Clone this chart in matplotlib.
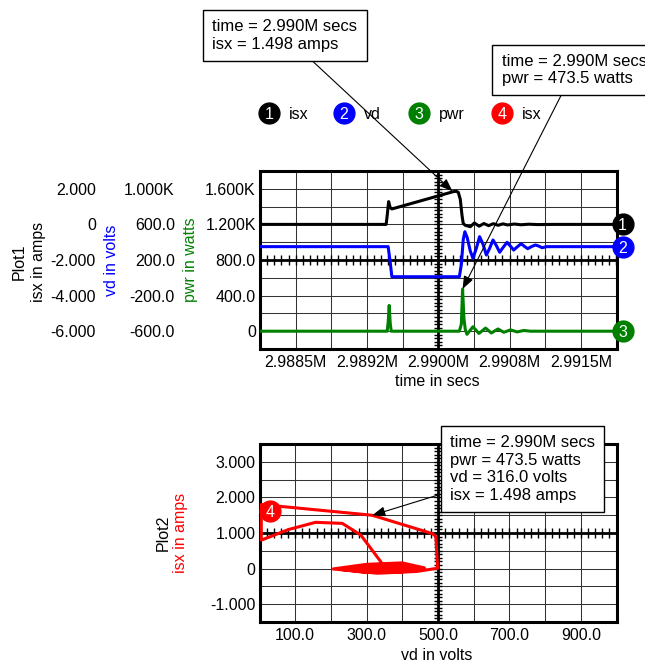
import numpy as np
import matplotlib
matplotlib.use('Agg')
import matplotlib.pyplot as plt
from matplotlib.transforms import ScaledTranslation

plt.rcParams['font.family'] = ['Liberation Sans', 'DejaVu Sans']
plt.rcParams['font.size'] = 11.5

# ---- Plot1 数据 (时间单位: ms, 标签写成 "M") ----
time_ticks = [2.98850, 2.98925, 2.99000, 2.99075, 2.99150]
time_labels = ['2.9885M', '2.9892M', '2.9900M', '2.9908M', '2.9915M']
t_min, t_max = 2.988125, 2.991875

isx_t = [2.988125, 2.989452, 2.989463, 2.989478, 2.989494, 2.989512, 2.989547,
         2.990158, 2.990190, 2.990211, 2.990232, 2.990250, 2.990263, 2.990284,
         2.990337, 2.990380, 2.990430, 2.990480, 2.990530, 2.990580, 2.990630,
         2.990680, 2.990730, 2.990800, 2.990870, 2.990950, 2.991050, 2.991200,
         2.991875]
isx_v = [0, 0, 0.5, 1.28, 0.95, 0.87, 0.92,
         1.84, 1.86, 1.80, 1.40, 0.5, 0.05, -0.05,
         -0.13, 0.08, -0.10, 0.05, -0.07, 0.04, -0.05,
         0.03, -0.03, 0.02, -0.02, 0.01, -0.01, 0,
         0]

vd_t = [2.988125, 2.989473, 2.989494, 2.989512, 2.990222, 2.990243, 2.990263,
        2.990280, 2.990305, 2.990337, 2.990365, 2.990400, 2.990435, 2.990470,
        2.990506, 2.990540, 2.990576, 2.990612, 2.990646, 2.990685, 2.990724,
        2.990760, 2.990793, 2.990832, 2.990871, 2.990905, 2.990941, 2.990980,
        2.991022, 2.991060, 2.991092, 2.991140, 2.991875]
vd_v = [350, 350, 180, 12, 12, 150, 430,
        518, 450, 300, 219, 330, 462, 380,
        256, 330, 425, 360, 287, 345, 399,
        355, 312, 348, 383, 355, 327, 350,
        369, 355, 338, 350, 350]

pwr_t = [2.988125, 2.989463, 2.989473, 2.989484, 2.989494, 2.989505, 2.990222,
         2.990243, 2.990256, 2.990270, 2.990284, 2.990302, 2.990365, 2.990428,
         2.990498, 2.990558, 2.990628, 2.990690, 2.990760, 2.990830, 2.990900,
         2.990970, 2.991875]
pwr_v = [0, 0, 100, 290, 100, 0, 0,
         80, 474, 150, 20, -35, 50, -25,
         35, -20, 25, -12, 15, -8, 8,
         0, 0]

pwr_ticks = [1600, 1200, 800, 400, 0]
pwr_labels = ['1.600K', '1.200K', '800.0', '400.0', '0']
vd_ticks = [1000, 600, 200, -200, -600]
vd_labels = ['1.000K', '600.0', '200.0', '-200.0', '-600.0']
isx_ticks = [2, 0, -2, -4, -6]
isx_labels = ['2.000', '0', '-2.000', '-4.000', '-6.000']

# ---- Plot2 数据 (vd vs isx) ----
xy_vd = [345, 340, 284, 232, 157, 82, 5, 5, 316, 485, 494, 499,
         440, 330, 206, 300, 400, 462, 400, 300, 225, 310, 400, 448,
         390, 300, 250, 320, 400, 430, 380, 310, 275, 330, 390, 415,
         370, 320, 300, 340, 385, 400, 360, 330, 325, 350, 375, 345]
xy_isx = [0.0, 0.19, 0.94, 1.27, 1.30, 1.10, 0.80, 1.80, 1.498, 0.98, 0.90, 0.01,
          -0.08, -0.13, -0.01, 0.12, 0.16, 0.02, -0.09, -0.11, -0.02, 0.10, 0.13, 0.02,
          -0.08, -0.09, -0.01, 0.09, 0.10, 0.01, -0.07, -0.07, 0.0, 0.07, 0.07, 0.0,
          -0.05, -0.04, 0.0, 0.05, 0.04, 0.0, -0.03, -0.02, 0.01, 0.03, 0.01, 0.0]
vd_xticks = [100, 300, 500, 700, 900]
vd_xlabels = ['100.0', '300.0', '500.0', '700.0', '900.0']
isx2_ticks = [3, 2, 1, 0, -1]
isx2_labels = ['3.000', '2.000', '1.000', '0', '-1.000']

# 光标读数
cur_time = '2.990M'
cur_isx = 1.498
cur_pwr = 473.5
cur_vd = 316.0

legend_names = ['isx', 'vd', 'pwr', 'isx']
legend_colors = ['black', '#0000ff', '#008000', '#ff0000']

W, H = 645, 664
fig = plt.figure(figsize=(W / 100, H / 100), dpi=100)


def rect(l, t, r, b):
    return [l / W, (H - b) / H, (r - l) / W, (b - t) / H]


def ftext(x, y, s, **kw):
    fig.text(x / W, (H - y) / H, s, **kw)


def style_frame(ax):
    for sp in ax.spines.values():
        sp.set_linewidth(2.2)
    ax.grid(which='both', color='#333333', lw=0.75)
    ax.tick_params(which='both', length=0)
    ax.set_axisbelow(True)


# ---------------- Plot1 ----------------
ax1 = fig.add_axes(rect(260, 171, 616.5, 349))
ax1.set_xlim(t_min, t_max)
ax1.set_ylim(-200, 1800)
ax1.set_xticks(time_ticks)
ax1.set_xticklabels(time_labels)
ax1.set_xticks(np.linspace(t_min, t_max, 11), minor=True)
ax1.set_yticks(pwr_ticks)
ax1.set_yticklabels(pwr_labels)
ax1.set_yticks(np.arange(-200, 1801, 200), minor=True)
style_frame(ax1)
ax1.tick_params(axis='x', pad=4)
ax1.tick_params(axis='y', pad=3)

# 中心十字轴
xc, yc = 2.990, 800
ax1.axhline(yc, color='k', lw=2, zorder=2.5)
ax1.axvline(xc, color='k', lw=2, zorder=2.5)
hx = np.arange(t_min, t_max + 1e-9, 0.000075)
ax1.plot(hx, np.full(len(hx), yc), ls='none', marker='|', ms=7.5, mew=1, color='k', zorder=2.5)
vy = np.arange(-200, 1801, 40)
ax1.plot(np.full(len(vy), xc), vy, ls='none', marker='_', ms=6, mew=1, color='k', zorder=2.5)

ax1.plot(pwr_t, pwr_v, color='#008000', lw=2.2, zorder=3, solid_joinstyle='round')

ax_vd = ax1.twinx()
ax_vd.set_ylim(-800, 1200)
ax_isx = ax1.twinx()
ax_isx.set_ylim(-7, 3)
for ax, ticks, labels, off in [(ax_vd, vd_ticks, vd_labels, 81), (ax_isx, isx_ticks, isx_labels, 160)]:
    ax.yaxis.set_ticks_position('left')
    ax.spines['left'].set_position(('outward', off * 0.72))
    for sp in ax.spines.values():
        sp.set_color('none')
    ax.set_yticks(ticks)
    ax.set_yticklabels(labels)
    ax.tick_params(length=0, pad=3)

ax_vd.plot(vd_t, vd_v, color='#0000ff', lw=2.2, zorder=3, solid_joinstyle='round')
ax_isx.plot(isx_t, isx_v, color='black', lw=2.2, zorder=3, solid_joinstyle='round')

# 曲线末端编号
shift = ScaledTranslation(6 / 100, 0, fig.dpi_scale_trans)
for ax, val, num, col in [(ax_isx, isx_v[-1], '1', 'black'),
                          (ax_vd, vd_v[-1], '2', '#0000ff'),
                          (ax1, pwr_v[-1], '3', '#008000')]:
    tr = ax.transData + shift
    ax.plot([t_max], [val], 'o', ms=15, color=col, transform=tr, clip_on=False, zorder=6)
    ax.text(t_max, val, num, transform=tr, color='white', ha='center', va='center_baseline',
            fontsize=11.5, clip_on=False, zorder=7)

ftext(19, 262, 'Plot1', rotation=90, ha='center', va='center')
ftext(38, 262, 'isx in amps', rotation=90, ha='center', va='center')
ftext(112, 260, 'vd in volts', rotation=90, ha='center', va='center', color='#0000ff')
ftext(191, 260, 'pwr in watts', rotation=90, ha='center', va='center', color='#008000')
ftext(437, 381, 'time in secs', ha='center', va='center')

arrow = dict(arrowstyle='-|>,head_length=0.65,head_width=0.25', color='k', lw=0.8,
             shrinkA=0, shrinkB=0)
box = dict(boxstyle='square,pad=0.55', fc='white', ec='black', lw=1)

ax_isx.annotate(f'time = {cur_time} secs\nisx = {cur_isx:.3f} amps',
                xy=(2.990150, 1.86), xytext=(285, H - 35.5), textcoords='figure pixels',
                ha='center', va='center', multialignment='left', fontsize=12,
                bbox=box, arrowprops=arrow, annotation_clip=False, zorder=8)
ax_isx.annotate(f'time = {cur_time} secs\npwr = {cur_pwr:.1f} watts',
                xy=(2.990256, cur_pwr), xycoords=ax1.transData,
                xytext=(574, H - 70), textcoords='figure pixels',
                ha='center', va='center', multialignment='left', fontsize=12,
                bbox=box, arrowprops=arrow, annotation_clip=False, zorder=8)

# ---------------- Plot2 ----------------
ax2 = fig.add_axes(rect(259.5, 444, 616.5, 622))
ax2.set_xlim(0, 1000)
ax2.set_ylim(-1.5, 3.5)
ax2.set_xticks(vd_xticks)
ax2.set_xticklabels(vd_xlabels)
ax2.set_xticks(np.arange(0, 1001, 100), minor=True)
ax2.set_yticks(isx2_ticks)
ax2.set_yticklabels(isx2_labels)
ax2.set_yticks(np.arange(-1.5, 3.51, 0.5), minor=True)
style_frame(ax2)
ax2.tick_params(axis='x', pad=4)
ax2.tick_params(axis='y', pad=3)

ax2.axhline(1.0, color='k', lw=2, zorder=2.5)
ax2.axvline(500, color='k', lw=2, zorder=2.5)
hx2 = np.arange(0, 1001, 20)
ax2.plot(hx2, np.full(len(hx2), 1.0), ls='none', marker='|', ms=6.5, mew=1, color='k', zorder=2.5)
vy2 = np.arange(-1.5, 3.51, 0.1)
ax2.plot(np.full(len(vy2), 500), vy2, ls='none', marker='_', ms=5.5, mew=1, color='k', zorder=2.5)

ax2.plot(xy_vd, xy_isx, color='#ff0000', lw=2.2, zorder=3, solid_joinstyle='round')

tr4 = ax2.transData + ScaledTranslation(9 / 100, -6 / 100, fig.dpi_scale_trans)
ax2.plot([xy_vd[7]], [xy_isx[7]], 'o', ms=15, color='#ff0000', transform=tr4, clip_on=False, zorder=6)
ax2.text(xy_vd[7], xy_isx[7], '4', transform=tr4, color='white', ha='center', va='center_baseline',
         fontsize=11.5, zorder=7)

ax2.annotate(f'time = {cur_time} secs\npwr = {cur_pwr:.1f} watts\nvd = {cur_vd:.1f} volts\nisx = {cur_isx:.3f} amps',
             xy=(cur_vd, cur_isx), xytext=(522.5, H - 469), textcoords='figure pixels',
             ha='center', va='center', multialignment='left', fontsize=12,
             bbox=box, arrowprops=arrow, annotation_clip=False, zorder=8)

ftext(163, 533, 'Plot2', rotation=90, ha='center', va='center')
ftext(181, 533, 'isx in amps', rotation=90, ha='center', va='center', color='#ff0000')
ftext(437, 655, 'vd in volts', ha='center', va='center')

# ---------------- 图例 ----------------
ov = fig.add_axes([0, 0, 1, 1])
ov.set_xlim(0, W)
ov.set_ylim(H, 0)
ov.axis('off')
leg_x = [269, 344, 419, 502]
for i, (nm, col, x) in enumerate(zip(legend_names, legend_colors, leg_x)):
    ov.plot([x], [113], 'o', ms=15, color=col)
    ov.text(x, 113, str(i + 1), color='white', ha='center', va='center_baseline', fontsize=11.5)
    ov.text(x + 20, 113, nm, ha='left', va='center_baseline', fontsize=11.5)

fig.savefig('out.png', dpi=100)
